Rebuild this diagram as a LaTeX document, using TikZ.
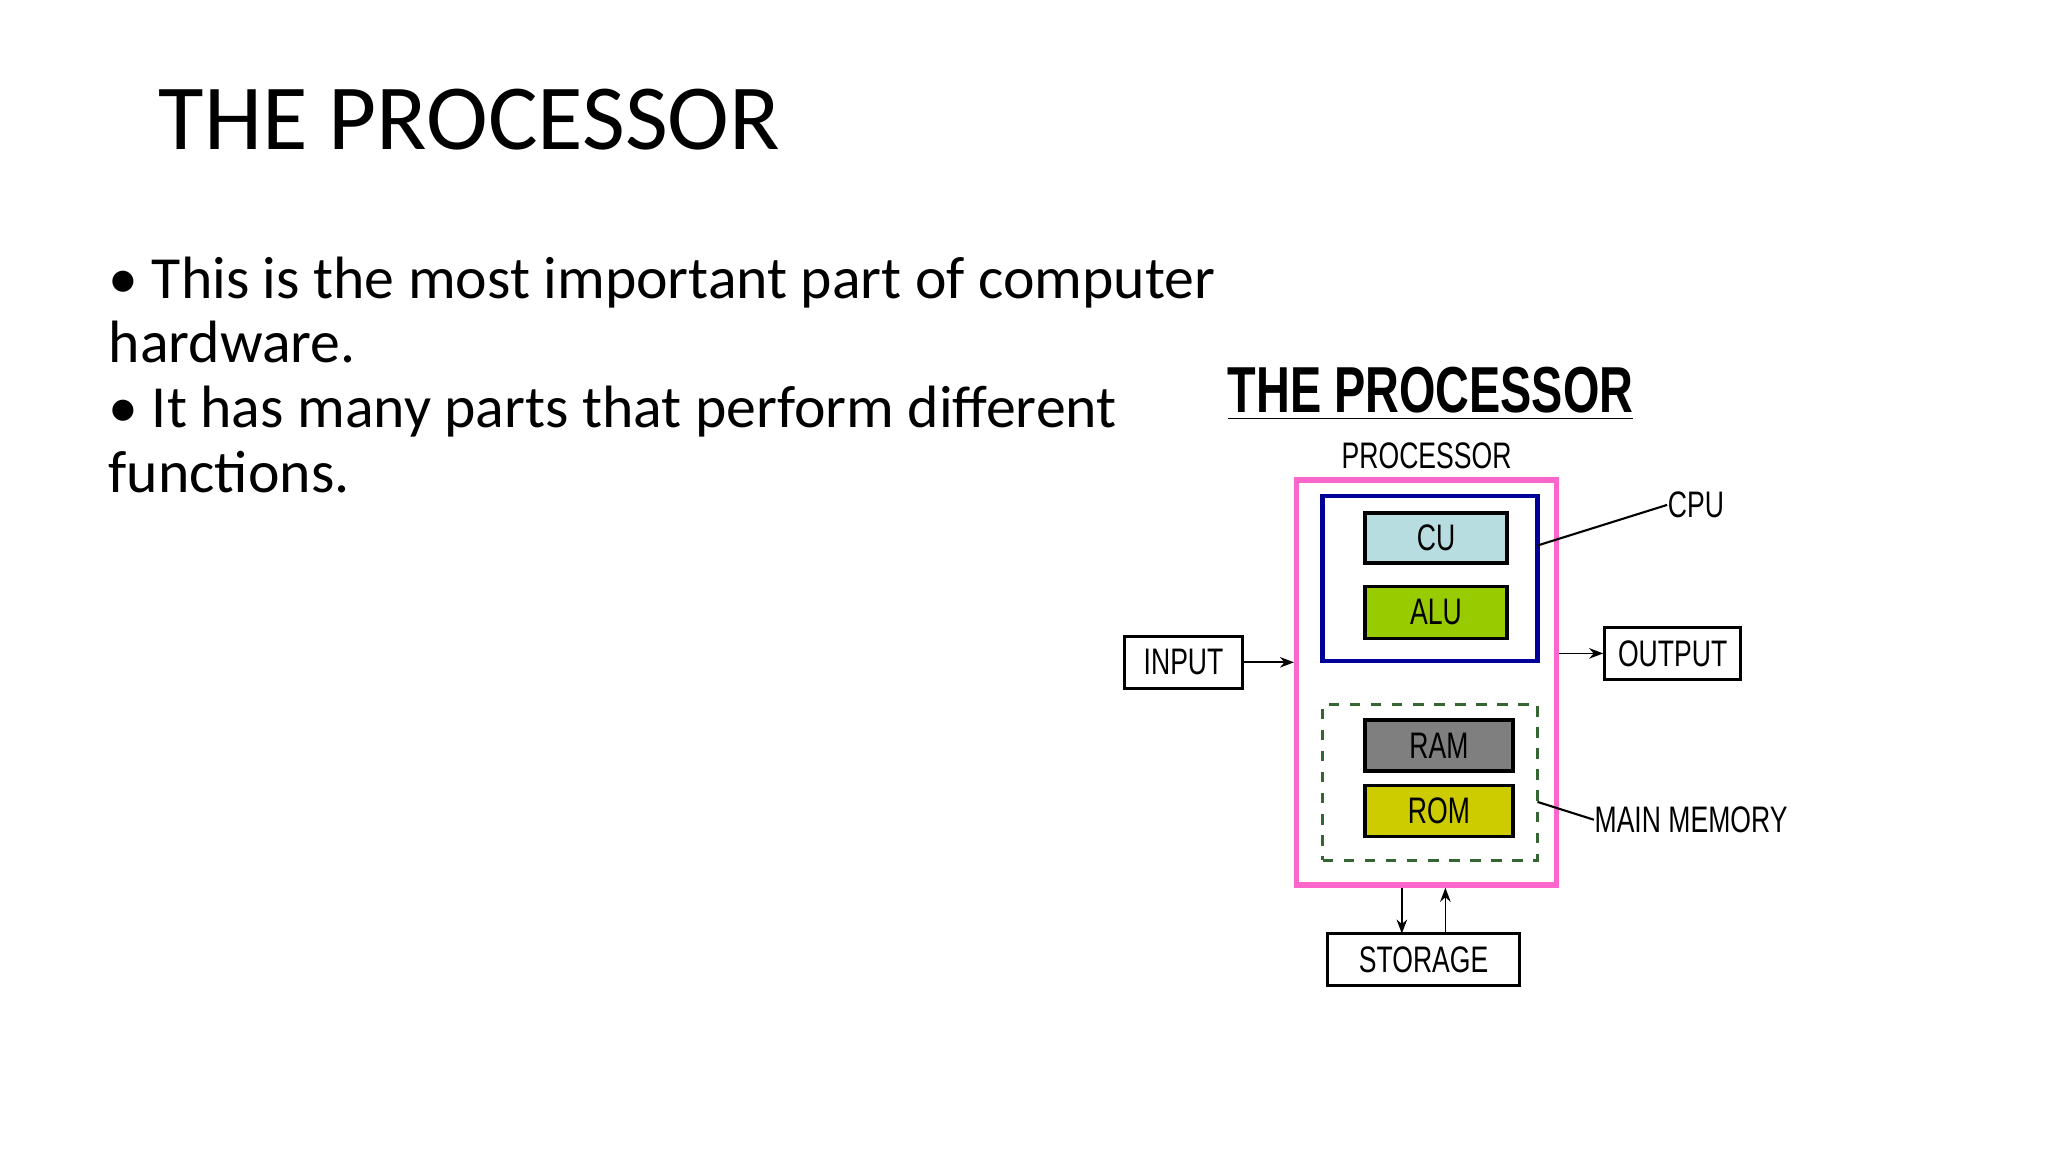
\documentclass[tikz,border=0pt]{standalone}
\usepackage{fontspec}
\setmainfont{Carlito}
\newfontfamily\diagfont{Liberation Sans}[FakeStretch=0.72]
\usetikzlibrary{arrows.meta, positioning}
\definecolor{cublue}{HTML}{B7DDE0}
\definecolor{alugreen}{HTML}{99CC00}
\definecolor{ramgray}{HTML}{7F7F7F}
\definecolor{romyellow}{HTML}{CCCC00}
\definecolor{procpink}{HTML}{FF66CC}
\definecolor{cpublue}{HTML}{000099}
\definecolor{memgreen}{HTML}{336633}
\tikzset {
    unit/.style = {
        draw,
        shape = rectangle,
        line width=0.9pt,
        inner sep=0pt,
        font = {\diagfont\fontsize{10.5}{12}\selectfont}
    },
    io/.style = {
        unit,
        fill = white,
        line width=0.8pt
    },
    label text/.style = {
        inner sep=0pt,
        font = {\diagfont\fontsize{10.5}{12}\selectfont}
    },
    flow/.style = {
        -{Stealth[length=4pt, width=3pt]},
        line width=0.5pt
    },
    leader/.style = {
        line width=0.6pt
    }
}
\begin{document}
\begin{tikzpicture}
    \useasboundingbox (0,0) rectangle (20.48,-11.52);

    % Slide text
    \node [anchor=base west, inner sep=0pt, font=\fontsize{26.5}{32}\selectfont]
        (title) at (1.58,-1.50) {THE PROCESSOR};
    \node [anchor=north west, inner sep=0pt, align=left, font=\fontsize{17}{18.4}\selectfont]
        (bullets) at (1.08,-2.56) {\textbullet\ This is the most important part of computer\\
        hardware.\\
        \textbullet\ It has many parts that perform different\\
        functions.};

    \begin{scope}[scale=0.99]
    % Diagram heading
    \node [inner sep=0pt, font={\diagfont\bfseries\fontsize{18.5}{20}\selectfont}]
        (heading) at (14.45,-3.98) {\underline{THE PROCESSOR}};

    % Outer boxes : processor, cpu, main memory
    \node [unit, draw=procpink, line width=1.5pt, minimum width=2.6cm, minimum height=4.05cm]
        (proc) at (14.41,-6.895) {};
    \node [label text, above=0.08cm of proc] (proclabel) {PROCESSOR};
    \node [unit, draw=cpublue, line width=1.3pt, minimum width=2.15cm, minimum height=1.65cm]
        (cpu) at (14.445,-5.845) {};
    \node [unit, draw=memgreen, dashed, minimum width=2.15cm, minimum height=1.56cm]
        (mem) at (14.445,-7.90) {};

    % Inner units
    \node [unit, fill=cublue, minimum width=1.42cm, minimum height=0.5cm]     (cu)  at (14.505,-5.435) {CU};
    \node [unit, fill=alugreen, minimum width=1.42cm, minimum height=0.52cm]  (alu) at (14.505,-6.185) {ALU};
    \node [unit, fill=ramgray, minimum width=1.48cm, minimum height=0.51cm]   (ram) at (14.535,-7.53) {RAM};
    \node [unit, fill=romyellow, minimum width=1.48cm, minimum height=0.51cm] (rom) at (14.535,-8.19) {ROM};

    % Input, output, storage
    \node [io, minimum width=1.18cm, minimum height=0.52cm] (input)   at (11.955,-6.69) {INPUT};
    \node [io, minimum width=1.36cm, minimum height=0.52cm] (output)  at (16.895,-6.60) {OUTPUT};
    \node [io, minimum width=1.92cm, minimum height=0.52cm] (storage) at (14.38,-9.69)  {STORAGE};

    % Callouts
    \node [label text, anchor=west] (cpulabel) at (16.84,-5.10) {CPU};
    \node [label text, anchor=west] (memlabel) at (16.10,-8.28) {MAIN MEMORY};
    \coordinate (cpuend) at (15.53,-5.51);
    \coordinate (memend) at (15.53,-8.10);
    \coordinate (stdown) at (14.16,-9.43);
    \coordinate (stup)   at (14.60,-9.43);

    \draw [flow]    (input.east)   --  (input.east -| proc.west);
    \draw [flow]    (proc.east |- output.west)  --  (output.west);
    \draw [flow]    (stdown |- proc.south)  --  (stdown);
    \draw [flow]    (stup)  --  (stup |- proc.south);
    \draw [leader]  (cpuend)  --  (cpulabel.west);
    \draw [leader]  (memend)  --  (memlabel.west);
    \end{scope}
\end{tikzpicture}
\end{document}
